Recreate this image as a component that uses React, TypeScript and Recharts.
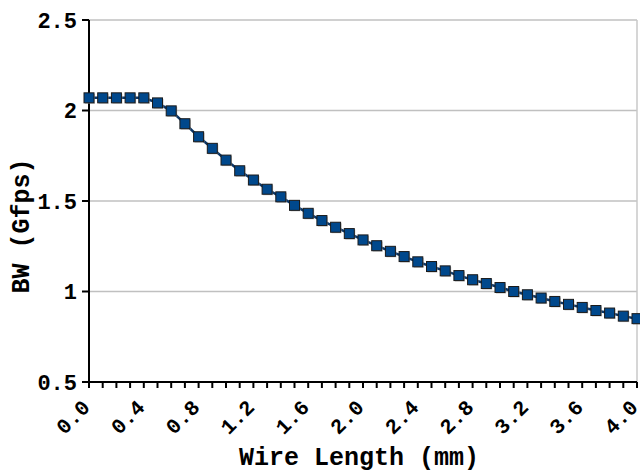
import { LineChart, Line, XAxis, YAxis, CartesianGrid, ReferenceLine, Label } from "recharts";

const wireLength = [
  0.0, 0.1, 0.2, 0.3, 0.4, 0.5, 0.6, 0.7, 0.8, 0.9,
  1.0, 1.1, 1.2, 1.3, 1.4, 1.5, 1.6, 1.7, 1.8, 1.9,
  2.0, 2.1, 2.2, 2.3, 2.4, 2.5, 2.6, 2.7, 2.8, 2.9,
  3.0, 3.1, 3.2, 3.3, 3.4, 3.5, 3.6, 3.7, 3.8, 3.9, 4.0,
];

const bandwidth = [
  2.07, 2.07, 2.07, 2.07, 2.07, 2.042, 1.998, 1.927, 1.855, 1.791,
  1.726, 1.667, 1.616, 1.565, 1.523, 1.476, 1.432, 1.392, 1.355, 1.32,
  1.285, 1.253, 1.222, 1.193, 1.164, 1.138, 1.114, 1.088, 1.065, 1.044,
  1.022, 1.0, 0.982, 0.964, 0.945, 0.929, 0.912, 0.895, 0.881, 0.864, 0.85,
];

const yTicks = [0.5, 1, 1.5, 2, 2.5];
const xLabelEvery = 4;

const data = wireLength.map((x, i) => ({ x, bw: bandwidth[i] }));

const font = "'Liberation Mono', 'Courier New', monospace";

function XTick(props: any) {
  const { x, y, index, payload } = props;
  if (index % xLabelEvery !== 0) return null;
  return (
    <g transform={`translate(${x - 3},${y + 13.5})`}>
      <text
        transform="rotate(-45)"
        textAnchor="end"
        dy="0.35em"
        fontFamily={font}
        fontWeight="bold"
        fontSize={21}
        fill="#000"
      >
        {payload.value.toFixed(1)}
      </text>
    </g>
  );
}

function Square(props: any) {
  const { cx, cy } = props;
  if (cx == null || cy == null) return null;
  return (
    <g>
      <rect x={cx - 4} y={cy - 4} width={10} height={10} fill="#9a9a9a" opacity={0.6} />
      <rect x={cx - 5} y={cy - 5} width={10} height={10} fill="#00488c" stroke="#1a1a1a" strokeWidth={1} />
    </g>
  );
}

export default function App() {
  return (
    <div style={{ position: "absolute", left: 0, top: 0 }}>
      <LineChart
        width={640}
        height={472}
        data={data}
        margin={{ top: 20, right: 3, left: 0, bottom: 0 }}
      >
        <CartesianGrid vertical={false} stroke="#c0c0c0" strokeWidth={1.5} />
        <ReferenceLine x={4} stroke="#c8c8c8" strokeWidth={1.5} />
        <XAxis
          dataKey="x"
          type="number"
          domain={[0, 4]}
          ticks={wireLength}
          interval={0}
          height={90}
          axisLine={{ stroke: "#000", strokeWidth: 2 }}
          tickLine={{ stroke: "#000", strokeWidth: 2 }}
          tickSize={6}
          tick={<XTick />}
        >
          <Label
            content={() => (
              <text
                x={359}
                y={456}
                dy="0.35em"
                textAnchor="middle"
                fontFamily={font}
                fontWeight="bold"
                fontSize={25}
                fill="#000"
              >
                Wire Length (mm)
              </text>
            )}
          />
        </XAxis>
        <YAxis
          type="number"
          domain={[0.5, 2.5]}
          ticks={yTicks}
          width={89}
          axisLine={{ stroke: "#000", strokeWidth: 2 }}
          tickLine={{ stroke: "#000", strokeWidth: 2 }}
          tickSize={7}
          tickMargin={5}
          tick={{ fill: "#000", fontFamily: font, fontWeight: "bold", fontSize: 22 }}
        >
          <Label
            content={(p: any) => {
              const vb = p.viewBox || { y: 20, height: 362 };
              const cy = vb.y + vb.height / 2 + 25;
              return (
                <text
                  x={20}
                  y={cy}
                  dy="0.35em"
                  transform={`rotate(-90, 20, ${cy})`}
                  textAnchor="middle"
                  fontFamily={font}
                  fontWeight="bold"
                  fontSize={25}
                  fill="#000"
                >
                  BW (Gfps)
                </text>
              );
            }}
          />
        </YAxis>
        <Line
          type="linear"
          dataKey="bw"
          stroke="#0a3566"
          strokeWidth={2.5}
          dot={<Square />}
          activeDot={false}
          isAnimationActive={false}
        />
      </LineChart>
    </div>
  );
}
